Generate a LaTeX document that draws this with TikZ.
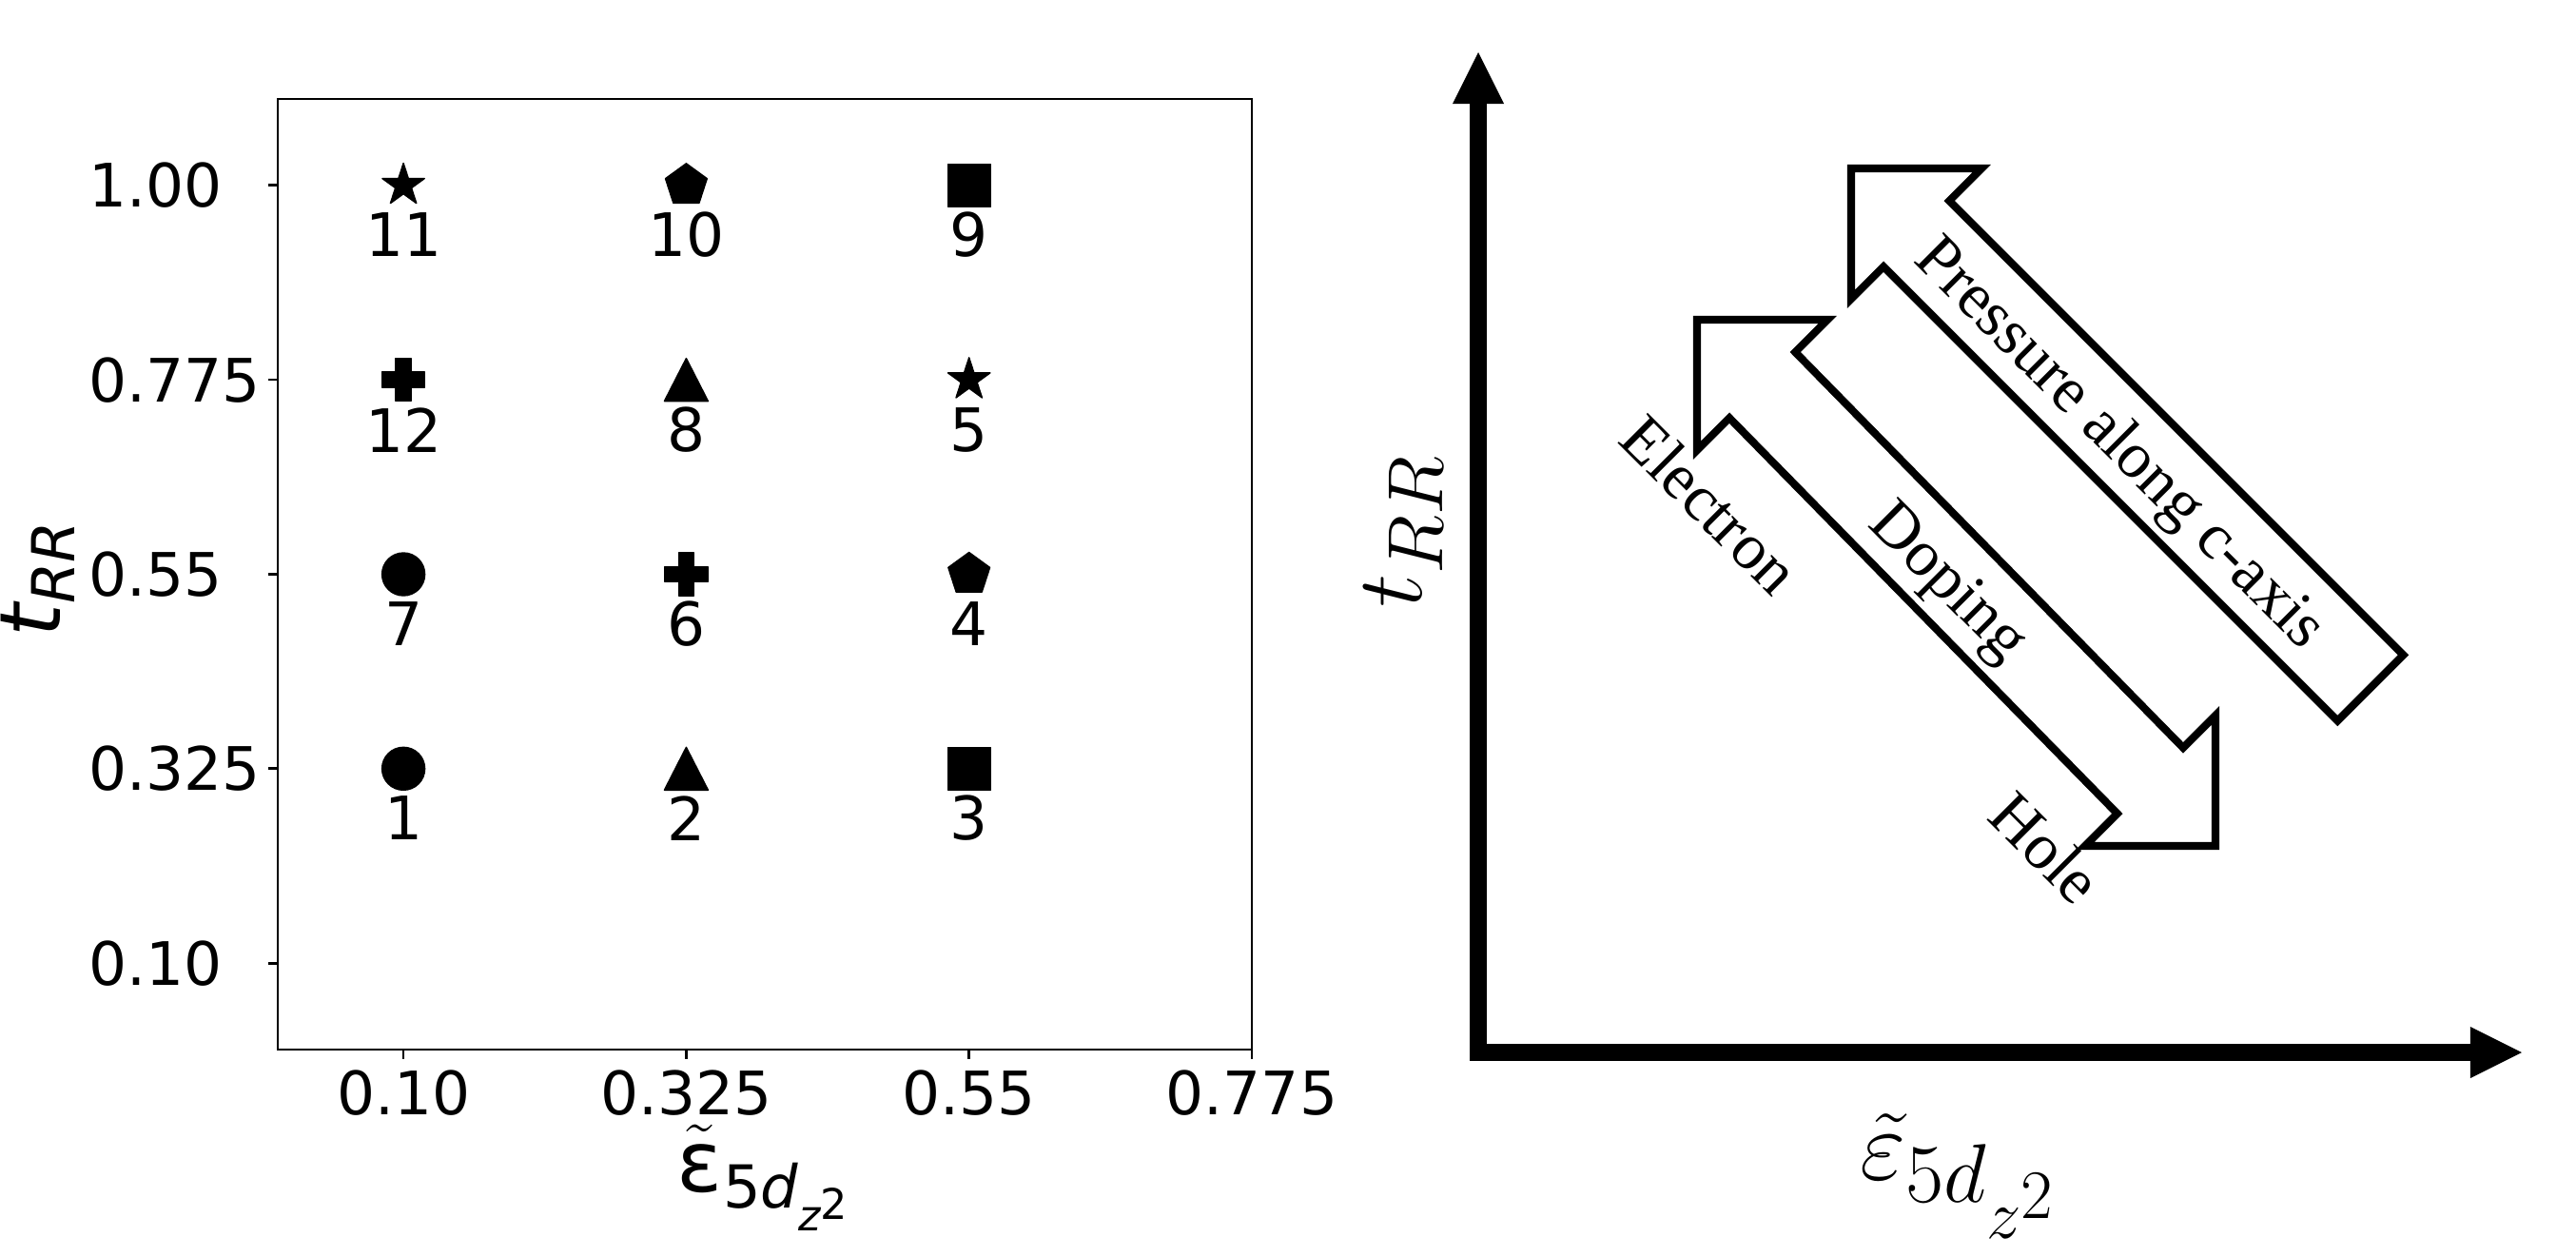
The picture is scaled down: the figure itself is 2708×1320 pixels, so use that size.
\documentclass[tikz,border=0pt]{standalone}
\usepackage{amsmath}
\usepackage{fontspec}
\newfontfamily\djv{DejaVu Sans}
\newfontfamily\tms{Liberation Serif}
\usetikzlibrary{arrows.meta}
\tikzset{
  frame/.style={line width=0.77pt},
  tickmark/.style={line width=0.77pt},
  ticklab/.style={font=\djv\fontsize{17.9}{20}\selectfont, inner sep=0pt},
  axlabL/.style={font=\djv\fontsize{25.3}{30}\selectfont, inner sep=0pt},
  axlabR/.style={font=\fontsize{24.88}{30}\selectfont, inner sep=0pt},
  serifl/.style={font=\tms\fontsize{19.4}{22}\selectfont, inner sep=0pt, rotate=-45},
  blockarrow/.style={draw=black, line width=2.3pt, line join=miter, fill=white},
  bigaxis/.style={line width=5.1pt, line join=miter,
     {Triangle[length=15.4pt,width=15.4pt,line width=0pt]}-{Triangle[length=15.4pt,width=15.4pt,line width=0pt]}},
  mk/.style={fill=black, draw=black, line width=0.4pt, line join=round},
  pics/mcircle/.style={code={\path[mk] (0,0) circle[radius=0.225cm];}},
  pics/msquare/.style={code={\path[mk] (-22.5,-22.5) rectangle (22.5,22.5);}},
  pics/mtri/.style={code={\path[mk] (0,-22.5) -- (23,22.5) -- (-23,22.5) -- cycle;}},
  pics/mpent/.style={code={\path[mk] (-90:23) -- (-18:23) -- (54:23) -- (126:23) -- (198:23) -- cycle;}},
  pics/mstar/.style={code={\path[mk] (-90:23.3) -- (-54:8.9) -- (-18:23.3) -- (18:8.9) -- (54:23.3) -- (90:8.9) -- (126:23.3) -- (162:8.9) -- (198:23.3) -- (234:8.9) -- cycle;}},
  pics/mplus/.style={code={\path[mk] (-8,-22.5) -- (8,-22.5) -- (8,-8) -- (22.5,-8) -- (22.5,8) -- (8,8) -- (8,22.5) -- (-8,22.5) -- (-8,8) -- (-22.5,8) -- (-22.5,-8) -- (-8,-8) -- cycle;}},
}
\begin{document}
\begin{tikzpicture}[x=0.01cm,y=-0.01cm]
\useasboundingbox (0,0) rectangle (2708,1320);
\fill[white] (0,0) rectangle (2708,1320);

% ---------------- left panel ----------------
\draw[frame] (292,104) rectangle (1316,1103);
\foreach \xv/\lab [count=\i] in {424.1/0.10, 721.4/0.325, 1018.7/0.55, 1316/0.775}{
  \draw[tickmark] (\xv,1103) -- (\xv,1113);
  \node[ticklab] (xt\i) at (\xv,1149) {\lab};
}
\foreach \yv/\lab [count=\i] in {194.8/1.00, 399.1/0.775, 603.5/0.55, 807.8/0.325, 1012.2/0.10}{
  \draw[tickmark] (292,\yv) -- (282,\yv);
  \node[ticklab, anchor=west] (yt\i) at (93,\yv) {\lab};
}

% markers
\pic at (424.1,194.8) {mstar};
\pic at (721.4,194.8) {mpent};
\pic at (1018.7,194.8) {msquare};
\pic at (424.1,399.1) {mplus};
\pic at (721.4,399.1) {mtri};
\pic at (1018.7,399.1) {mstar};
\pic at (424.1,603.5) {mcircle};
\pic at (721.4,603.5) {mplus};
\pic at (1018.7,603.5) {mpent};
\pic at (424.1,807.8) {mcircle};
\pic at (721.4,807.8) {mtri};
\pic at (1018.7,807.8) {msquare};

\node[ticklab] (n11) at (424.1,247) {11};
\node[ticklab] (n10) at (721.4,247) {10};
\node[ticklab] (n9)  at (1018.7,247) {9};
\node[ticklab] (n12) at (424.1,452) {12};
\node[ticklab] (n8)  at (721.4,452) {8};
\node[ticklab] (n5)  at (1018.7,452) {5};
\node[ticklab] (n7)  at (424.1,656) {7};
\node[ticklab] (n6)  at (721.4,656) {6};
\node[ticklab] (n4)  at (1018.7,656) {4};
\node[ticklab] (n1)  at (424.1,860) {1};
\node[ticklab] (n2)  at (721.4,860) {2};
\node[ticklab] (n3)  at (1018.7,860) {3};

% axis labels (left)
\node[axlabL, rotate=90] (ylabL) at (40,608) {$\textit{t}_{\textit{RR}}$};
\node[axlabL] (xlabL) at (804,1238) {$\tilde{\text{ε}}_{\text{5}\textit{d}_{\textit{z}^{\text{2}}}}$};

% ---------------- right panel ----------------
\coordinate (O) at (1554,1106);
\coordinate (ytip) at (1554,55);
\coordinate (xtip) at (2651,1106);
\draw[bigaxis] (ytip) -- (O) -- (xtip);

\node[axlabR, rotate=90, scale=1.125] (ylabR) at (1475,558) {$t_{RR}$};
\node[axlabR, scale=1.2] (xlabR) at (2060,1236) {$\tilde{\varepsilon}_{5d_{z^2}}$};

% block arrows
\path[blockarrow] (1946,177) -- (2083.2,177) -- (2049.2,211) -- (2526.5,688.3)
   -- (2457.3,757.5) -- (1980,280.2) -- (1946,314.2) -- cycle;
\path[blockarrow] (1784,336) -- (1921.2,336) -- (1887.2,370) -- (2295,785.8)
   -- (2329,751.8) -- (2329,889) -- (2191.8,889) -- (2225.8,855)
   -- (1818,439.2) -- (1784,473.2) -- cycle;

\node[serifl] (press) at (2227,468) {Pressure along c-axis};
\node[serifl] (dop) at (2046,614) {Doping};
\node[serifl] (elec) at (1798,530) {Electron};
\node[serifl] (hole) at (2151,891) {Hole};
\end{tikzpicture}
\end{document}
